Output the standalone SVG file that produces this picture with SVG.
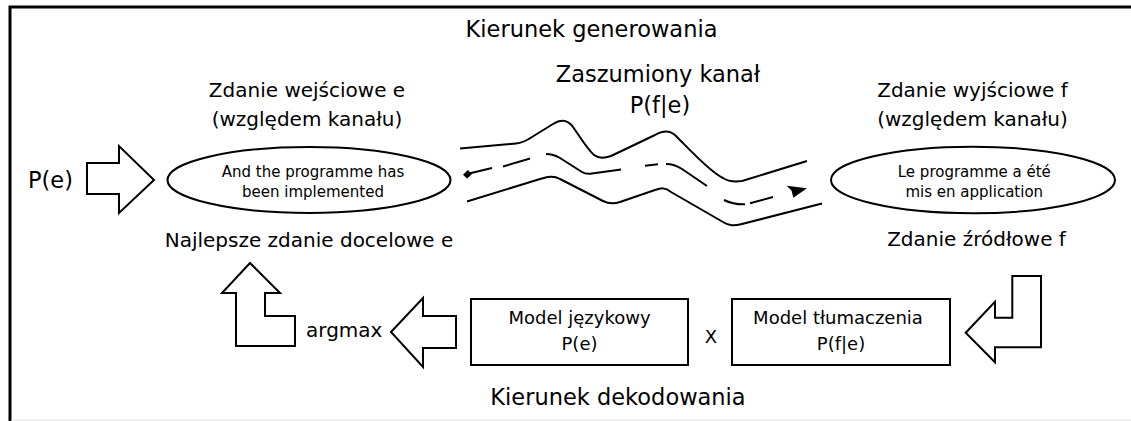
<svg xmlns="http://www.w3.org/2000/svg" width="1131" height="421" viewBox="0 0 1131 421">
<style>
text{font-family:"DejaVu Sans","Noto Sans",sans-serif;fill:#000}
.c{text-anchor:middle}
.t15{font-size:15px}
.t18{font-size:18px}
.t20{font-size:20px}
.t22{font-size:22.5px}
.ln{fill:none;stroke:#000;stroke-width:2;stroke-linecap:butt;stroke-linejoin:round}
.sh{fill:#fff;stroke:#000;stroke-width:2;stroke-linejoin:miter}
</style>
<rect x="0" y="0" width="1131" height="421" fill="#fff"/>
<g id="frame">
<path d="M10,421 V7 H1131" fill="none" stroke="#000" stroke-width="3"/>
<line x1="11.5" y1="420.2" x2="1131" y2="420.2" stroke="#ebebeb" stroke-width="1.5"/>
</g>
<g id="titles">
<text class="t22 c" x="591.5" y="36.5">Kierunek generowania</text>
<text class="t22 c" x="618" y="405">Kierunek dekodowania</text>
</g>
<g id="input-sentence">
<text class="t20 c" x="307" y="96.5">Zdanie wejściowe e</text>
<text class="t20 c" x="307" y="126">(względem kanału)</text>
<ellipse class="sh" cx="309" cy="180" rx="141.5" ry="33"/>
<text class="t15 c" x="313" y="177">And the programme has</text>
<text class="t15 c" x="313" y="196.5">been implemented</text>
<text class="t20 c" x="309" y="247">Najlepsze zdanie docelowe e</text>
</g>
<g id="output-sentence">
<text class="t20 c" x="972.5" y="96.5">Zdanie wyjściowe f</text>
<text class="t20 c" x="972.5" y="126">(względem kanału)</text>
<ellipse class="sh" cx="973" cy="180" rx="142" ry="33.3"/>
<text class="t15 c" x="974.3" y="177">Le programme a été</text>
<text class="t15 c" x="974.3" y="196.5">mis en application</text>
<text class="t20 c" x="976.5" y="246">Zdanie źródłowe f</text>
</g>
<g id="noisy-channel">
<text class="t22 c" x="658" y="82">Zaszumiony kanał</text>
<text class="t22 c" x="660" y="113">P(f|e)</text>
<path class="ln" d="M460,148.5 L516,143.5 C522,143 526,141 532,137 L553,124 C561,119 568,120 573,127 C580,137 588,150 594,155 C599,159 605,158 611,156 L655,135 C662,131 670,130 676,136 C690,150 710,172 723,178 C729,182 735,182 742,181 L807,161"/>
<path class="ln" d="M467,201.5 L540,179 C547,177 553,175 560,179 L603,201 C609,204 614,204 620,202 L655,190 C661,188 665,187 671,192 L723,222 C729,226 734,226 742,224 L822,203.5"/>
</g>
<g id="language-model">
<rect class="sh" x="471" y="299" width="217" height="66"/>
<text class="t18 c" x="579.5" y="324">Model językowy</text>
<text class="t18 c" x="579.5" y="350">P(e)</text>
</g>
<text id="times" class="t18 c" x="711" y="343">X</text>
<g id="translation-model">
<rect class="sh" x="732" y="299" width="218" height="66"/>
<text class="t18 c" x="838" y="324">Model tłumaczenia</text>
<text class="t18 c" x="841" y="350">P(f|e)</text>
</g>
<g id="prior">
<text class="t22" x="28" y="188">P(e)</text>
</g>
<g id="argmax-label">
<text class="t20" x="306" y="337">argmax</text>
</g>
<g id="connectors">
<polygon class="sh" points="87,163 119,163 119,146 154,180 119,213 119,194 87,194"/>
<polygon class="sh" points="965.7,332.7 995,301.7 995,317.7 1012.3,317.7 1012.3,276 1041,276 1041,347.3 995,347.3 995,362.3"/>
<polygon class="sh" points="391,332 423,298 423,316 456,316 456,348 423,348 423,367"/>
<polygon class="sh" points="250,263 280,293 265,293 265,316 295,316 295,346 236,346 236,293 222,293"/>
<path class="ln" d="M467,174 L492,168 M503,166.5 L530,158.5 M546,154 C551,154 555,155 560,158 L582,172 C585,174 588,174 592,173.5 L621,169.5 M645,165.7 L658,164.3 M666,164 C672,164 676,165 682,169 L707,186 M724,200 C730,203 736,204.5 745,204.3 M750,203.3 L773,197"/>
<polygon points="463,174.8 467.8,170 472,174 467.2,178.6" fill="#000"/>
<polygon points="786.7,185.7 807,188.3 793.3,197.7 791.5,190.5" fill="#000"/>
</g>
</svg>
